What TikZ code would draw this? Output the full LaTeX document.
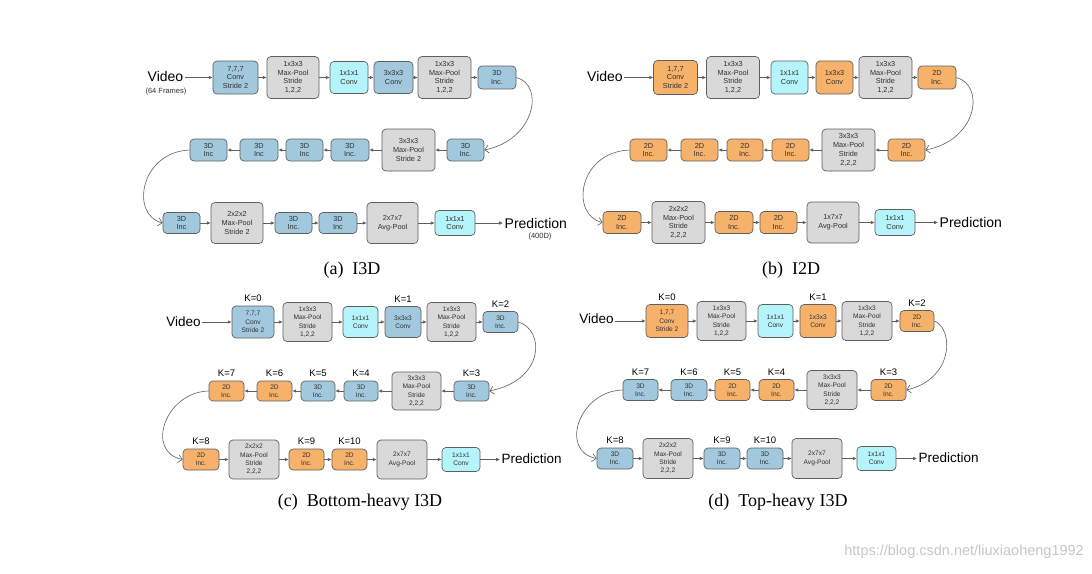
\documentclass[tikz,border=0pt]{standalone}
\usepackage{fontspec}
\setmainfont{Liberation Sans}
\newfontfamily\capfont{Liberation Serif}
\usetikzlibrary{arrows.meta}
\definecolor{cblue}{HTML}{A2C8DD}
\definecolor{corange}{HTML}{F6B26B}
\definecolor{ccyan}{HTML}{B5F4FA}
\definecolor{cgray}{HTML}{D9D9D9}
\definecolor{cline}{HTML}{5F5F5F}
\definecolor{ctext}{HTML}{303030}
\tikzset{
  box/.style={draw=cline, line width=0.7pt, rounded corners=4pt, inner sep=0pt, align=center, text=ctext},
  fa/.style={font=\fontsize{7.3}{8.8}\selectfont},
  fc/.style={font=\fontsize{6.6}{8.4}\selectfont},
  nblue/.style={box, fill=cblue},
  norange/.style={box, fill=corange},
  ncyan/.style={box, fill=ccyan},
  ngray/.style={box, fill=cgray},
  arr/.style={draw=cline, line width=0.7pt, -{Latex[length=3.8pt,width=3.6pt]}},
  crv/.style={draw=cline, line width=0.6pt, -{Straight Barb[length=4pt,width=8pt]}},
  bigt/.style={font=\fontsize{14}{16}\selectfont, inner sep=1.5pt, text=black},
  midt/.style={font=\fontsize{13.5}{16}\selectfont, inner sep=1.5pt, text=black},
  smallt/.style={font=\fontsize{7.5}{9}\selectfont, inner sep=0pt, text=ctext},
  klab/.style={font=\fontsize{9.5}{11}\selectfont, inner sep=0.5pt, text=black, anchor=south},
  capt/.style={font=\capfont\fontsize{18}{20}\selectfont, inner sep=0pt, text=black},
}
\newcommand\bx[7]{\node[#2,minimum width=#5pt,minimum height=#6pt] (#1) at (#3,#4) {#7};}
\newcommand\chain[1]{\foreach \i/\j in {1/2,2/3,3/4,4/5,5/6,7/8,8/9,9/10,10/11,11/12,13/14,14/15,15/16,16/17,17/18}{\draw[arr] (#1\i) -- (#1\j);}}
\newcommand\klabel[2]{\node[klab] at ([yshift=3pt]#1.north) {#2};}

\begin{document}
\begin{tikzpicture}[x=1pt,y=-1pt]
\fill[white] (0,0) rectangle (1092,573);
\useasboundingbox (0,0) rectangle (1092,573);

% ---------------- (a) I3D ----------------
\begin{scope}[every node/.append style={fa}]
\bx{a1}{nblue}{235.5}{77.5}{45}{33}{7,7,7\\Conv\\Stride 2}
\bx{a2}{ngray}{293}{77.5}{52}{42}{1x3x3\\Max-Pool\\Stride\\1,2,2}
\bx{a3}{ncyan}{349}{77.5}{38}{32}{1x1x1\\Conv}
\bx{a4}{nblue}{393.5}{77.5}{39}{32}{3x3x3\\Conv}
\bx{a5}{ngray}{444.5}{77.5}{53}{42}{1x3x3\\Max-Pool\\Stride\\1,2,2}
\bx{a6}{nblue}{497}{77.5}{38}{23}{3D\\Inc.}
\bx{a7}{nblue}{465.5}{150}{37}{22}{3D\\Inc.}
\bx{a8}{ngray}{408.5}{150}{53}{42}{3x3x3\\Max-Pool\\Stride 2}
\bx{a9}{nblue}{350}{150}{38}{22}{3D\\Inc.}
\bx{a10}{nblue}{304.5}{150}{37}{22}{3D\\Inc}
\bx{a11}{nblue}{259}{150}{38}{22}{3D\\Inc}
\bx{a12}{nblue}{208.5}{150}{37}{22}{3D\\Inc}
\bx{a13}{nblue}{181.5}{223}{37}{21}{3D\\Inc}
\bx{a14}{ngray}{237}{223}{52}{41}{2x2x2\\Max-Pool\\Stride 2}
\bx{a15}{nblue}{293.5}{223}{37}{21}{3D\\Inc.}
\bx{a16}{nblue}{338}{223}{38}{21}{3D\\Inc}
\bx{a17}{ngray}{392.5}{223}{51}{41}{2x7x7\\Avg-Pool}
\bx{a18}{ncyan}{455}{223}{40}{25}{1x1x1\\Conv}
\node[bigt] (av) at (165.5,76.5) {Video};
\node[smallt] (af) at (166,92) {(64 Frames)};
\node[bigt, anchor=west] (ap) at (503,223) {Prediction};
\node[smallt] (ad) at (540,237) {(400D)};
\chain{a}
\draw[arr] (av.east |- a1) -- (a1);
\draw[arr] (a18) -- (ap.west |- a18);
\draw[crv] (a6.east) .. controls (545,85) and (535,140) .. (a7.east);
\draw[crv] (a12.west) .. controls (140,152) and (130,215) .. (a13.west);
\end{scope}

% ---------------- (b) I2D ----------------
\begin{scope}[xshift=440pt, every node/.append style={fa}]
\bx{b1}{norange}{235.5}{77.5}{44}{34}{1,7,7\\Conv\\Stride 2}
\bx{b2}{ngray}{293}{77.5}{53}{42}{1x3x3\\Max-Pool\\Stride\\1,2,2}
\bx{b3}{ncyan}{349.5}{77.5}{37}{33}{1x1x1\\Conv}
\bx{b4}{norange}{394.5}{77.5}{37}{33}{1x3x3\\Conv}
\bx{b5}{ngray}{445.5}{77.5}{53}{42}{1x3x3\\Max-Pool\\Stride\\1,2,2}
\bx{b6}{norange}{497}{77.5}{38}{23}{2D\\Inc.}
\bx{b7}{norange}{466.5}{150}{37}{22}{2D\\Inc.}
\bx{b8}{ngray}{408.5}{150}{53}{42}{3x3x3\\Max-Pool\\Stride\\2,2,2}
\bx{b9}{norange}{350.5}{150}{37}{22}{2D\\Inc.}
\bx{b10}{norange}{305}{150}{36}{22}{2D\\Inc.}
\bx{b11}{norange}{259.5}{150}{37}{22}{2D\\Inc.}
\bx{b12}{norange}{208.5}{150}{37}{22}{2D\\Inc.}
\bx{b13}{norange}{182}{222.5}{38}{22}{2D\\Inc.}
\bx{b14}{ngray}{238.5}{222.5}{53}{42}{2x2x2\\Max-Pool\\Stride\\2,2,2}
\bx{b15}{norange}{294}{222.5}{38}{22}{2D\\Inc.}
\bx{b16}{norange}{338.5}{222.5}{37}{22}{2D\\Inc.}
\bx{b17}{ngray}{393}{222.5}{52}{41}{1x7x7\\Avg-Pool}
\bx{b18}{ncyan}{455}{222.5}{40}{26}{1x1x1\\Conv}
\node[bigt] (bv) at (165,76.5) {Video};
\node[bigt, anchor=west] (bp) at (498,222.5) {Prediction};
\chain{b}
\draw[arr] (bv.east |- b1) -- (b1);
\draw[arr] (b18) -- (bp.west |- b18);
\draw[crv] (b6.east) .. controls (545,85) and (538,140) .. (b7.east);
\draw[crv] (b12.west) .. controls (138,152) and (130,215) .. (b13.west);
\end{scope}

% ---------------- (c) Bottom-heavy ----------------
\begin{scope}[every node/.append style={fc}]
\bx{c1}{nblue}{253}{322}{42}{32}{7,7,7\\Conv\\Stride 2}
\bx{c2}{ngray}{307.5}{322}{49}{39}{1x3x3\\Max-Pool\\Stride\\1,2,2}
\bx{c3}{ncyan}{360.5}{322}{35}{31}{1x1x1\\Conv}
\bx{c4}{nblue}{403}{322}{36}{31}{3x3x3\\Conv}
\bx{c5}{ngray}{451.5}{322}{49}{39}{1x3x3\\Max-Pool\\Stride\\1,2,2}
\bx{c6}{nblue}{500.5}{322}{35}{21}{3D\\Inc.}
\bx{c7}{nblue}{471.5}{391}{35}{20}{3D\\Inc.}
\bx{c8}{ngray}{416.5}{391}{49}{38}{3x3x3\\Max-Pool\\Stride\\2,2,2}
\bx{c9}{nblue}{361}{391}{34}{20}{3D\\Inc.}
\bx{c10}{nblue}{318}{391}{34}{20}{3D\\Inc.}
\bx{c11}{norange}{274.5}{391}{35}{20}{2D\\Inc.}
\bx{c12}{norange}{226.5}{391}{35}{20}{2D\\Inc.}
\bx{c13}{norange}{201}{459.5}{36}{21}{2D\\Inc.}
\bx{c14}{ngray}{254}{459.5}{50}{39}{2x2x2\\Max-Pool\\Stride\\2,2,2}
\bx{c15}{norange}{306.5}{459.5}{35}{21}{2D\\Inc.}
\bx{c16}{norange}{349.5}{459.5}{35}{21}{2D\\Inc.}
\bx{c17}{ngray}{402}{459.5}{50}{39}{2x7x7\\Avg-Pool}
\bx{c18}{ncyan}{461}{459.5}{38}{24}{1x1x1\\Conv}
\node[midt] (cv) at (183.5,321.5) {Video};
\node[midt, anchor=west] (cp) at (500,459) {Prediction};
\chain{c}
\draw[arr] (cv.east |- c1) -- (c1);
\draw[arr] (c18) -- (cp.west |- c18);
\draw[crv] (c6.east) .. controls (545,330) and (545,380) .. (c7.east);
\draw[crv] (c12.west) .. controls (165,392) and (145,452) .. (c13.west);
\klabel{c1}{K=0}\klabel{c4}{K=1}\klabel{c6}{K=2}
\klabel{c7}{K=3}\klabel{c9}{K=4}\klabel{c10}{K=5}\klabel{c11}{K=6}\klabel{c12}{K=7}
\klabel{c13}{K=8}\klabel{c15}{K=9}\klabel{c16}{K=10}
\end{scope}

% ---------------- (d) Top-heavy ----------------
\begin{scope}[xshift=414pt, yshift=1pt, every node/.append style={fc}]
\bx{d1}{norange}{253}{322}{42}{33}{1,7,7\\Conv\\Stride 2}
\bx{d2}{ngray}{307.5}{322}{49}{39}{1x3x3\\Max-Pool\\Stride\\1,2,2}
\bx{d3}{ncyan}{361.5}{322}{35}{33}{1x1x1\\Conv}
\bx{d4}{norange}{404}{322}{36}{33}{1x3x3\\Conv}
\bx{d5}{ngray}{453}{322}{50}{39}{1x3x3\\Max-Pool\\Stride\\1,2,2}
\bx{d6}{norange}{503}{322}{34}{21}{2D\\Inc.}
\bx{d7}{norange}{474.5}{391}{35}{21}{2D\\Inc.}
\bx{d8}{ngray}{418}{391}{50}{39}{3x3x3\\Max-Pool\\Stride\\2,2,2}
\bx{d9}{norange}{362.5}{391}{35}{21}{2D\\Inc.}
\bx{d10}{norange}{318.5}{391}{35}{21}{2D\\Inc.}
\bx{d11}{nblue}{275}{391}{36}{21}{3D\\Inc.}
\bx{d12}{nblue}{226.5}{391}{35}{21}{3D\\Inc.}
\bx{d13}{nblue}{201}{459.5}{36}{21}{3D\\Inc.}
\bx{d14}{ngray}{254}{459.5}{50}{40}{2x2x2\\Max-Pool\\Stride\\2,2,2}
\bx{d15}{nblue}{308}{459.5}{36}{21}{3D\\Inc.}
\bx{d16}{nblue}{351}{459.5}{36}{21}{3D\\Inc.}
\bx{d17}{ngray}{403}{459.5}{50}{40}{2x7x7\\Avg-Pool}
\bx{d18}{ncyan}{462.5}{459.5}{39}{24}{1x1x1\\Conv}
\node[midt] (dv) at (182.5,320) {Video};
\node[midt, anchor=west] (dp) at (503,459) {Prediction};
\chain{d}
\draw[arr] (dv.east |- d1) -- (d1);
\draw[arr] (d18) -- (dp.west |- d18);
\draw[crv] (d6.east) .. controls (540,330) and (540,380) .. (d7.east);
\draw[crv] (d12.west) .. controls (165,392) and (145,452) .. (d13.west);
\klabel{d1}{K=0}\klabel{d4}{K=1}\klabel{d6}{K=2}
\klabel{d7}{K=3}\klabel{d9}{K=4}\klabel{d10}{K=5}\klabel{d11}{K=6}\klabel{d12}{K=7}
\klabel{d13}{K=8}\klabel{d15}{K=9}\klabel{d16}{K=10}
\end{scope}

% captions
\node[capt] (capa) at (352,270) {(a)\ \ I3D};
\node[capt] (capb) at (791,270) {(b)\ \ I2D};
\node[capt] (capc) at (360,502) {(c)\ \ Bottom-heavy I3D};
\node[capt] (capd) at (778,502) {(d)\ \ Top-heavy I3D};

% watermark
\node[anchor=east, inner sep=0pt, text=black!22, font=\fontsize{14.5}{16}\selectfont] (wm) at (1084,552) {https://blog.csdn.net/liuxiaoheng1992};
\end{tikzpicture}
\end{document}
